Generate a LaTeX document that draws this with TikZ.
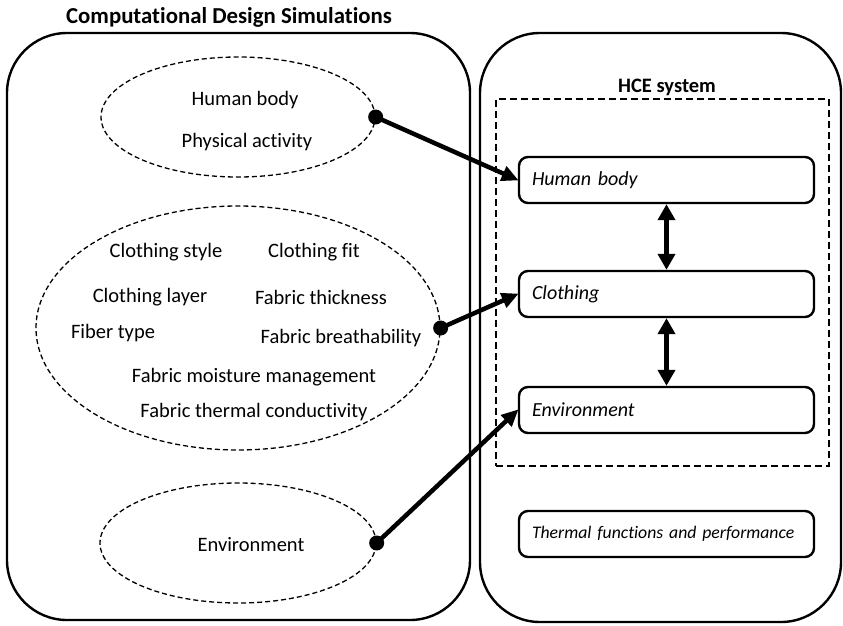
\documentclass[tikz,border=0pt]{standalone}
\usepackage{fontspec}
\setmainfont{Carlito}[Ligatures=NoCommon]
\usetikzlibrary{shapes.geometric,arrows.meta}
\begin{document}
\begin{tikzpicture}[x=1pt,y=-1pt,
  panel/.style={draw, line width=2.4pt, rounded corners=60pt, inner sep=0pt},
  group/.style={draw, dashed, line width=1.3pt, dash pattern=on 5pt off 3pt, ellipse, inner sep=0pt},
  item/.style={font=\fontsize{20.5}{22}\selectfont, inner sep=0pt},
  part/.style={draw, line width=2.4pt, rounded corners=9pt, minimum width=295pt, minimum height=46pt,
    inner xsep=13pt, text width=269pt, align=left, font=\fontsize{20}{22}\selectfont\itshape},
  dot/.style={circle, fill=black, minimum size=15pt, inner sep=0pt},
  feed/.style={line width=4.5pt, -{Triangle[length=17pt,width=15pt]}, shorten >=-1pt},
  link/.style={line width=4.5pt, {Triangle[length=16pt,width=17pt]}-{Triangle[length=16pt,width=17pt]}}
]
\useasboundingbox (0,0) rectangle (843,626);

% title and the two panels
\node[font=\fontsize{22.8}{24}\bfseries] (title) at (229,17) {Computational Design Simulations};
\node[panel, minimum width=463pt, minimum height=587pt] (sim) at (238.5,326.5) {};
\node[panel, minimum width=361pt, minimum height=589pt] (sys) at (660.5,327.5) {};

% parameter groups
\node[group, minimum width=274pt, minimum height=120pt] (g1) at (238,117) {};
\node[item] (t1) at (245,100) {Human body};
\node[item] (t2) at (247,142) {Physical activity};

\node[group, minimum width=404pt, minimum height=244pt] (g2) at (238,328) {};
\node[item] (c1) at (166,252) {Clothing style};
\node[item] (c2) at (314,252) {Clothing fit};
\node[item] (c3) at (150,297) {Clothing layer};
\node[item] (c4) at (321,297) {Fabric thickness};
\node[item] (c5) at (113,333) {Fiber type};
\node[item] (c6) at (341,338) {Fabric breathability};
\node[item] (c7) at (254,377) {Fabric moisture management};
\node[item] (c8) at (254,412) {Fabric thermal conductivity};

\node[group, minimum width=276pt, minimum height=120pt] (g3) at (238,543) {};
\node[item] (t3) at (251,545) {Environment};

% HCE system
\node[font=\fontsize{20.5}{22}\bfseries] (hce) at (667,87) {HCE system};
\node[draw, line width=2.4pt, dash pattern=on 7pt off 4pt, minimum width=333pt, minimum height=367pt, inner sep=0pt] (frame) at (662.5,282.5) {};
\node[part] (hb) at (666.5,180) {Human body};
\node[part] (cl) at (666.5,294) {Clothing};
\node[part] (en) at (666.5,410) {Environment};
\node[part, font=\fontsize{17.7}{19}\selectfont\itshape] (tf) at (666.5,534) {Thermal functions and performance};

% interactions inside the system
\draw[link] (hb.south) -- (cl.north);
\draw[link] (cl.south) -- (en.north);

% inputs from the simulations
\node[dot] (d1) at (g1.east) {};
\node[dot] (d2) at (g2.east) {};
\node[dot] (d3) at (g3.east) {};
\draw[feed] (d1.center) -- (hb.west);
\draw[feed] (d2.center) -- (cl.west);
\draw[feed] (d3.center) -- (en.west);
\end{tikzpicture}
\end{document}
